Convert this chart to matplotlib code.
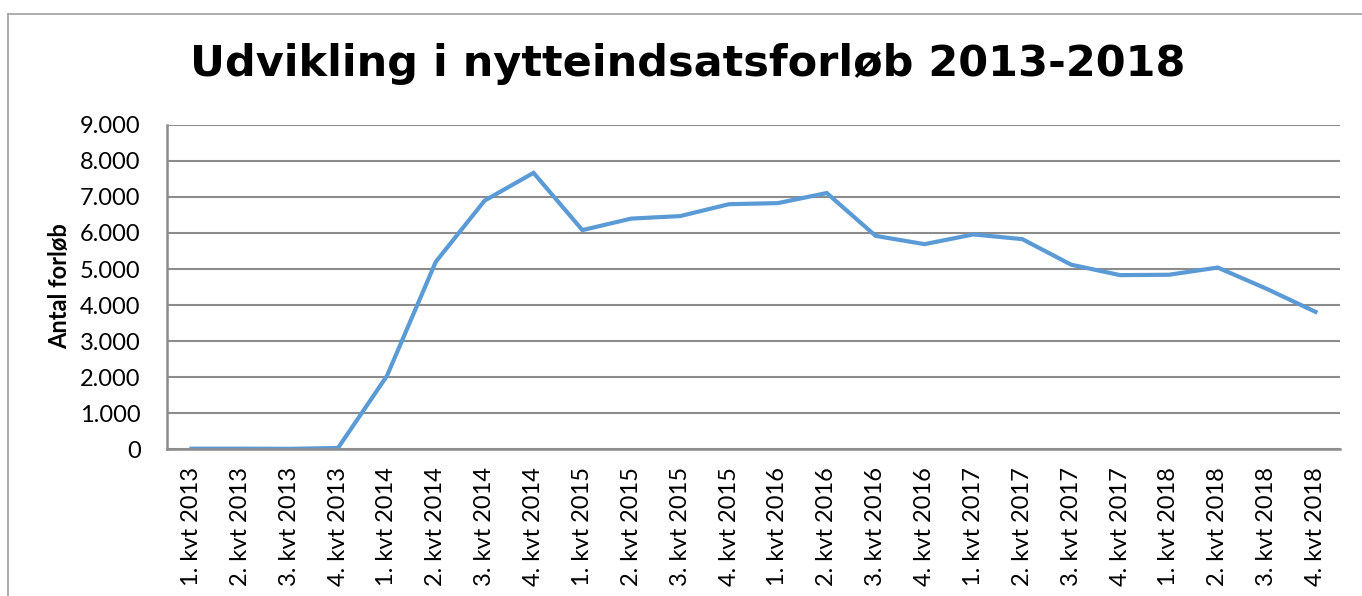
import numpy as np
import matplotlib.pyplot as plt
from matplotlib.lines import Line2D

# Quarterly values
quarters = ['1. kvt', '2. kvt', '3. kvt', '4. kvt']
years = [2013, 2014, 2015, 2016, 2017, 2018]
labels = ['%s %d' % (q, y) for y in years for q in quarters]
forloeb = [10, 10, 5, 30,
           2030, 5200, 6900, 7670,
           6080, 6400, 6470, 6800,
           6830, 7110, 5920, 5690,
           5960, 5830, 5120, 4830,
           4840, 5040, 4450, 3810]
yticks = np.arange(0, 9001, 1000)

plt.rcParams['font.family'] = ['Lato', 'DejaVu Sans']

fig = plt.figure(figsize=(13.62, 5.96), dpi=100, facecolor='w')
ax = fig.add_axes([0.1226, 0.2466, 0.8612, 0.5437])

x = np.arange(len(forloeb))
ax.plot(x, forloeb, color='#5B9BD5', linewidth=3, solid_joinstyle='miter')

ax.set_xlim(-0.5, len(forloeb) - 0.5)
ax.set_ylim(0, 9000)
ax.set_yticks(yticks)
ax.set_yticklabels(['{:,}'.format(v).replace(',', '.') for v in yticks],
                   fontsize=17)
ax.set_xticks(x)
ax.set_xticklabels(labels, rotation=90, fontsize=17)
ax.tick_params(axis='y', length=0, pad=19)
ax.tick_params(axis='x', length=0, pad=13)

ax.grid(axis='y', color='#8c8c8c', linewidth=1.5)
ax.set_axisbelow(True)
for s in ['top', 'right']:
    ax.spines[s].set_visible(False)
for s in ['left', 'bottom']:
    ax.spines[s].set_color('#8c8c8c')
    ax.spines[s].set_linewidth(1.8)

fig.text(0.5046, 0.893, 'Udvikling i nytteindsatsforløb 2013-2018',
         family='DejaVu Sans', fontweight='bold', fontsize=31,
         ha='center', va='center')
fig.text(0.044, 0.52, 'Antal forløb', fontweight='bold', fontsize=17,
         rotation=90, ha='center', va='center')

# chart frame (top and left edges visible)
fig.add_artist(Line2D([0.006, 1.0], [0.977, 0.977], color='#a0a0a0',
                      linewidth=1.2, transform=fig.transFigure))
fig.add_artist(Line2D([0.006, 0.006], [0.0, 0.977], color='#a0a0a0',
                      linewidth=1.2, transform=fig.transFigure))

fig.savefig('out.png', dpi=100)
